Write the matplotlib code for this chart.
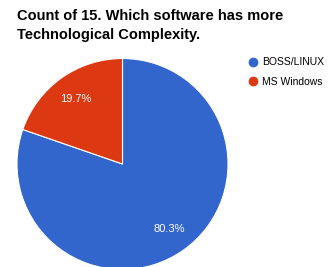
import matplotlib
matplotlib.use("Agg")
import matplotlib.pyplot as plt
from matplotlib.lines import Line2D

# Data
labels = ['BOSS/LINUX', 'MS Windows']
shares = [80.3, 19.7]
colors = ['#3366CC', '#DC3912']
title_lines = ['Count of 15. Which software has more', 'Technological Complexity.']

plt.rcParams['font.family'] = ['Liberation Sans', 'DejaVu Sans']

W, H = 330, 267
fig = plt.figure(figsize=(W / 100, H / 100), dpi=100)
ax = fig.add_axes([0, 0, 1, 1])
ax.set_xlim(0, W)
ax.set_ylim(0, H)
ax.set_aspect('equal')
ax.axis('off')

wedges, texts, autotexts = ax.pie(
    shares, colors=colors, startangle=90, counterclock=False,
    center=(122.5, H - 164), radius=105.5,
    autopct='%.1f%%', pctdistance=0.76,
    wedgeprops=dict(edgecolor='white', linewidth=0.8),
    textprops=dict(color='white', fontsize=8),
)
ax.set_xlim(0, W)
ax.set_ylim(0, H)

# Title (two lines, bold, left aligned)
fig.text(17 / W, 1 - 20.5 / H, title_lines[0], fontsize=10.5, fontweight='bold',
         ha='left', va='baseline', color='#000000')
fig.text(17 / W, 1 - 39 / H, title_lines[1], fontsize=10.5, fontweight='bold',
         ha='left', va='baseline', color='#000000')

# Legend with round markers
handles = [Line2D([0], [0], marker='o', linestyle='none', markersize=6,
                  markerfacecolor=c, markeredgecolor=c) for c in colors]
ax.legend(handles, labels, loc='upper left', bbox_to_anchor=(243 / W, 1 - 53 / H),
          frameon=False, fontsize=7.5, handletextpad=0.2, labelspacing=0.95,
          handlelength=1.2, borderaxespad=0)

fig.savefig('out.png', dpi=100)
